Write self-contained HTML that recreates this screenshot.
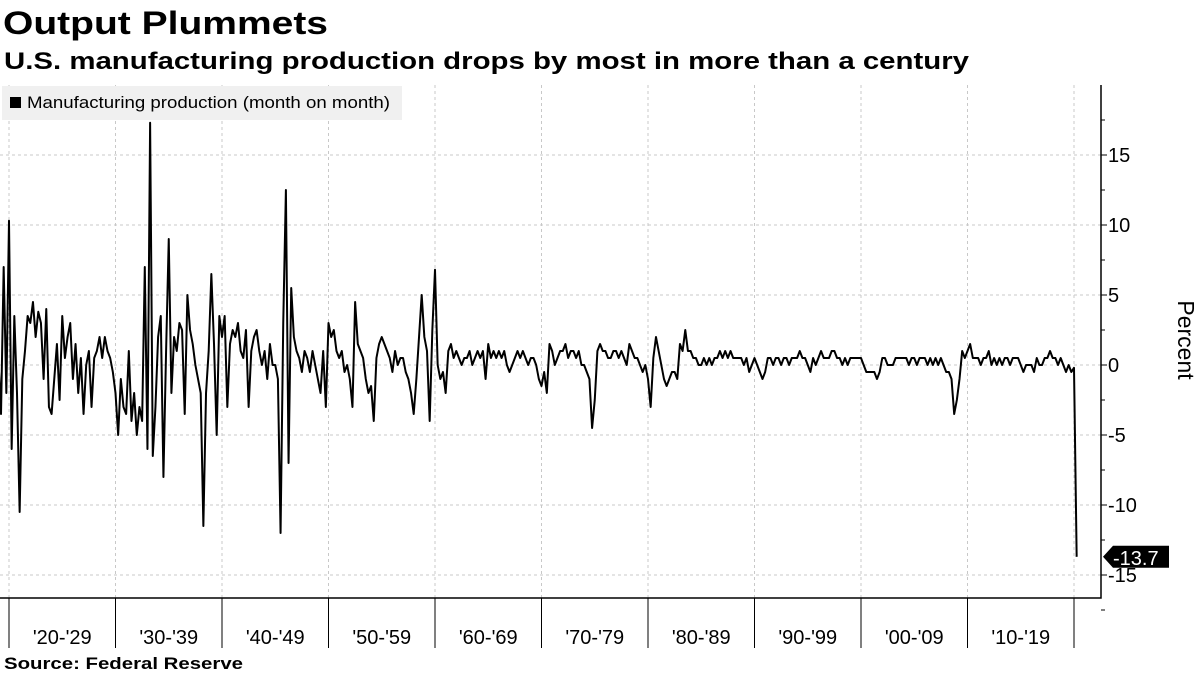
<!DOCTYPE html>
<html><head><meta charset="utf-8"><style>
body{margin:0;width:1200px;height:675px;background:#fff;overflow:hidden;font-family:"Liberation Sans",sans-serif;}
svg{position:absolute;left:0;top:0}
</style></head><body>
<svg width="1200" height="675">
<text x="3" y="34" font-size="32" font-weight="bold" fill="#000" textLength="325" lengthAdjust="spacingAndGlyphs">Output Plummets</text>
<text x="4" y="69" font-size="24" font-weight="bold" fill="#000" textLength="965" lengthAdjust="spacingAndGlyphs">U.S. manufacturing production drops by most in more than a century</text>
<g id="grid"></g>
<rect x="2" y="86" width="400" height="34" fill="#f0f0f0"/>
<rect x="10" y="97" width="11" height="11" fill="#000"/>
<text x="27" y="108" font-size="17" fill="#000" textLength="363" lengthAdjust="spacingAndGlyphs">Manufacturing production (month on month)</text>
<g id="axes"></g>
<path id="series" fill="none" stroke="#000" stroke-width="2" stroke-linejoin="round"/>
<g id="lastlabel"></g>
<text transform="translate(1178,340) rotate(90)" font-size="23" text-anchor="middle" fill="#000">Percent</text>
<text x="4" y="669" font-size="17" font-weight="bold" fill="#000" textLength="239" lengthAdjust="spacingAndGlyphs">Source:  Federal Reserve</text>
</svg>
<script>
const yTicks=[-15,-10,-5,0,5,10,15];
const decadeLabels=["'20-'29","'30-'39","'40-'49","'50-'59","'60-'69","'70-'79","'80-'89","'90-'99","'00-'09","'10-'19"];
const decadeStarts=[1920,1930,1940,1950,1960,1970,1980,1990,2000,2010,2020];
const startYear=1919;
const values=[
0.5,-3.5,7,-2, 10.3,-6,3.5,-2, -10.5,-1,1,3.5, 3,4.5,2,3.8, 3,-1,4,-3,
-3.5,-1,1.5,-2.5, 3.5,0.5,2,3, -1,1.5,-2,0.5, -3.5,0,1,-3, 0.5,1,2,0.5,
2,1,0.5,-0.5, -2,-5,-1,-3, -3.5,1,-4,-2, -5,-3,-4,7, -6,17.3,-6.5,-3,
2,3.5,-8,1, 9,-2,2,1, 3,2.5,-3.5,5, 2.5,1.5,0,-1, -2,-11.5,-2,1,
6.5,1.5,-5,3.5, 2,3.5,-3,1.5, 2.5,2,3,1, 0.5,2.5,-3,1, 2,2.5,1,0,
1,-1,1.5,0, 0,-1,-12,3, 12.5,-7,5.5,2, 1,0.5,-0.5,1, 0.5,-0.5,1,0,
-1,-2,1,-3, 3,2,2.5,1, 0.5,1,-0.5,0, -1,-3,4.5,1.5, 1,0.5,-1,-2,
-1.5,-4,0.5,1.5, 2,1.5,1,0.5, -0.5,1,0,0.5, 0.5,-0.5,-1,-2, -3.5,-1,2,5,
2,1,-4,2.5, 6.8,0,-1,-0.5, -2,1,1.5,0.5, 1,0.5,0,0.5, 0.5,1,0,0.5,
1,0.5,1,-1, 1.5,0.5,1,0.5, 1,0.5,1,0, -0.5,0,0.5,1, 0.5,1,0.5,0,
0.5,0.5,0,-1, -1.5,-0.5,-2,1.5, 1,0,0.5,1, 1,1.5,0.5,1, 1,0.5,1,0,
0,-0.5,-1,-4.5, -2.5,1,1.5,1, 1,0.5,0.5,1, 1,0.5,1,0.5, 0,1.5,1,0.5,
0.5,0,-0.5,0, -1,-3,0.5,2, 1,0,-1,-1.5, -1,-0.5,-0.5,-1, 1.5,1,2.5,1,
1,0.5,0.5,0, 0,0.5,0,0.5, 0,0.5,0.5,1, 0.5,1,0.5,1, 0.5,0.5,0.5,0.5,
0,0.5,-0.5,0, 0.5,0,-0.5,-1, -0.5,0.5,0.5,0, 0.5,0.5,0,0.5, 0.5,0,0.5,0.5,
0.5,1,0.5,0.5, 0,-0.5,0.5,0, 0.5,1,0.5,0.5, 0.5,1,1,0.5, 0.5,0,0.5,0,
0.5,0.5,0.5,0.5, 0.5,0,-0.5,-0.5, -0.5,-0.5,-1,-0.5, 0.5,0.5,0,0, 0,0.5,0.5,0.5,
0.5,0.5,0,0.5, 0.5,0,0.5,0.5, 0.5,0,0.5,0, 0.5,0,0.5,0, -0.5,-0.5,-1,-3.5,
-2.5,-1,1,0.5, 1,1.5,0.5,0.5, 0.5,0,0.5,0.5, 1,0,0.5,0, 0.5,0,0.5,0.5,
0,0.5,0.5,0.5, 0,-0.5,0,0, 0,-0.5,0.5,0, 0,0.5,0.5,1, 0.5,0.5,0,0.5,
0,-0.5,0,-0.5, -0.2,-13.7
];
const NS="http://www.w3.org/2000/svg";
const plotTop=85,plotBottom=598,axisX=1101;
function yS(v){return 365-v*14;}
function xS(t){return 9+(t-1920)*10.65;}
const grid=document.getElementById('grid'),axes=document.getElementById('axes');
function mk(tag,attrs,parent){const e=document.createElementNS(NS,tag);for(const k in attrs)e.setAttribute(k,attrs[k]);parent.appendChild(e);return e;}
yTicks.forEach(v=>{
 const l=mk('line',{x1:0,x2:axisX,y1:yS(v),y2:yS(v),stroke:'#c8c8c8','stroke-dasharray':'3,3'},grid);
 
 
 const t=mk('line',{x1:axisX,x2:axisX+6,y1:yS(v),y2:yS(v),stroke:'#000'},axes);
 
 
 const tx=mk('text',{x:axisX+7,y:yS(v)+7,'font-size':'20',fill:'#000'},axes);
 tx.textContent=v;
 
 
});
for(let v=-17.5;v<=17.5;v+=5){const m=mk('line',{x1:axisX,x2:axisX+4,y1:yS(v),y2:yS(v),stroke:'#000'},axes);
 
 }
decadeStarts.forEach(d=>{
 const l=mk('line',{x1:xS(d),x2:xS(d),y1:plotTop,y2:plotBottom,stroke:'#c8c8c8','stroke-dasharray':'3,3'},grid);
 
 
 const t=mk('line',{x1:xS(d),x2:xS(d),y1:plotBottom,y2:plotBottom+50,stroke:'#000'},axes);
 
 
});
decadeLabels.forEach((s,i)=>{
 const tx=mk('text',{x:(xS(decadeStarts[i])+xS(decadeStarts[i+1]))/2,y:644,'font-size':'20','text-anchor':'middle',fill:'#000'},axes);
 tx.textContent=s;
 
 
});
const ax=mk('path',{d:`M0 ${plotBottom}H${axisX}V${plotTop}`,fill:'none',stroke:'#000','stroke-width':1.5},axes);


let d='';
values.forEach((v,i)=>{d+=(i?'L':'M')+xS(startYear+i/4).toFixed(2)+' '+yS(v).toFixed(2);});
document.getElementById('series').setAttribute('d',d);
const last=values[values.length-1],ly=yS(last);
const lg=document.getElementById('lastlabel');
const p=mk('path',{d:`M${axisX+2} ${ly}L${axisX+12} ${ly-11}H${axisX+68}V${ly+11}H${axisX+12}Z`,fill:'#000'},lg);


const lt=mk('text',{x:axisX+12,y:ly+8,'font-size':'20',fill:'#fff'},lg);
lt.textContent=last.toFixed(1);


</script>
</body></html>
